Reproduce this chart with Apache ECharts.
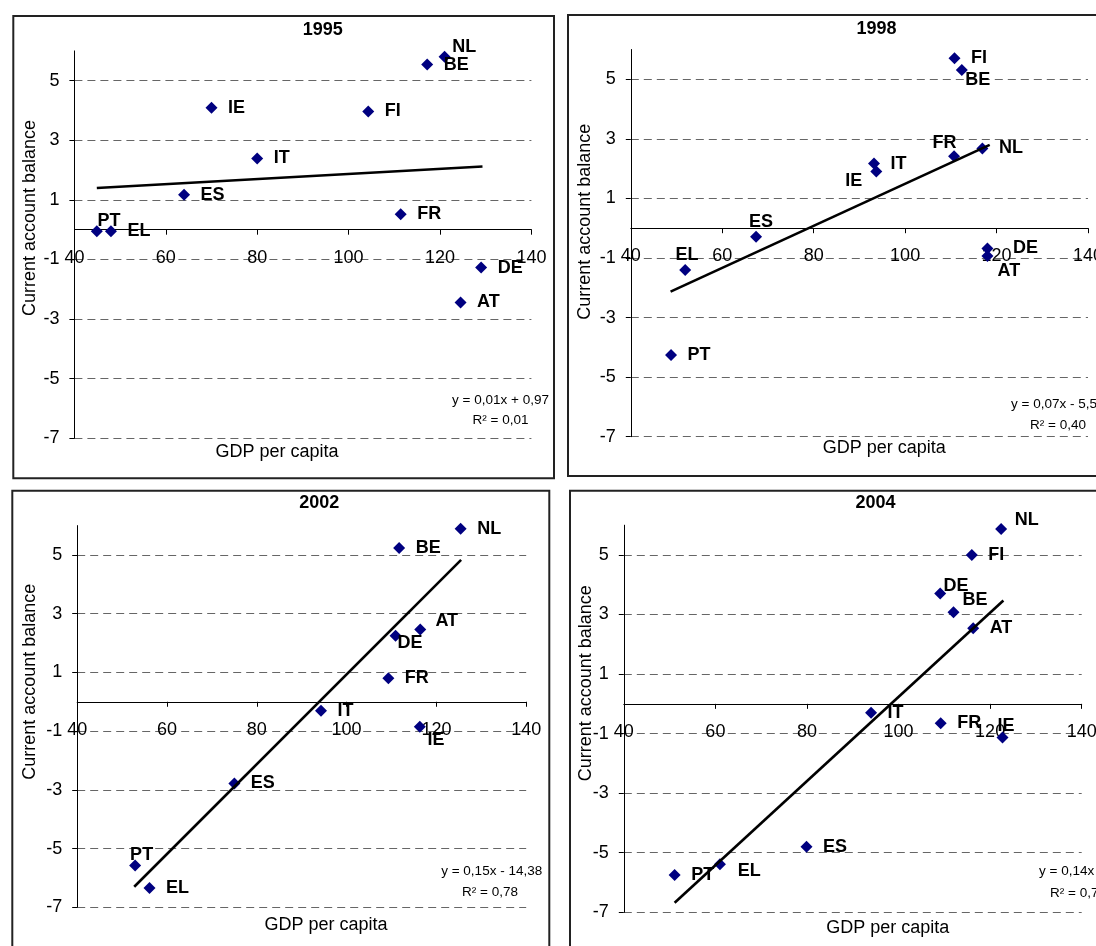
<!DOCTYPE html>
<html><head><meta charset="utf-8">
<script src="https://cdn.jsdelivr.net/npm/echarts@6/dist/echarts.min.js"></script>
<style>html,body{margin:0;padding:0;background:#fff}#c{width:1096px;height:946px}</style>
</head><body><div id="c"></div>
<script>
// ---------- data ----------
const xTicks = [40, 60, 80, 100, 120, 140];
const yTicks = [-7, -5, -3, -1, 1, 3, 5];
const yTop = 6;
const xAxisTitle = 'GDP per capita';
const yAxisTitle = 'Current account balance';

const countries1995 = ['NL','BE','IE','FI','IT','ES','FR','PT','EL','DE','AT'];
const gdp1995 = [121.0, 117.2, 70.0, 104.3, 80.0, 64.0, 111.4, 44.9, 48.0, 129.0, 124.5];
const cab1995 = [5.80, 5.54, 4.09, 3.97, 2.39, 1.17, 0.52, -0.05, -0.05, -1.27, -2.44];
const trendX1995 = [44.9, 129.3];
const trendY1995 = [1.40, 2.12];
const equation1995 = ['y = 0,01x + 0,97', 'R² = 0,01'];

const countries1998 = ['FI','BE','NL','FR','IT','IE','ES','EL','DE','AT','PT'];
const gdp1998 = [110.8, 112.4, 116.9, 110.7, 93.2, 93.7, 67.4, 51.9, 118.0, 118.0, 48.8];
const cab1998 = [5.71, 5.31, 2.68, 2.42, 2.17, 1.90, -0.29, -1.40, -0.68, -0.93, -4.26];
const trendX1998 = [48.7, 118.5];
const trendY1998 = [-2.13, 2.80];
const equation1998 = ['y = 0,07x - 5,5', 'R² = 0,40'];

const countries2002 = ['NL','BE','AT','DE','FR','IT','IE','ES','PT','EL'];
const gdp2002 = [125.4, 111.7, 116.4, 110.9, 109.3, 94.3, 116.3, 75.0, 52.9, 56.1];
const cab2002 = [5.89, 5.24, 2.46, 2.25, 0.80, -0.31, -0.85, -2.78, -5.58, -6.34];
const trendX2002 = [52.7, 125.5];
const trendY2002 = [-6.30, 4.83];
const equation2002 = ['y = 0,15x - 14,38', 'R² = 0,78'];

const countries2004 = ['NL','FI','DE','BE','AT','IT','FR','IE','ES','EL','PT'];
const gdp2004 = [122.4, 116.0, 109.1, 112.0, 116.3, 94.0, 109.2, 122.7, 79.9, 61.0, 51.1];
const cab2004 = [5.87, 5.00, 3.71, 3.08, 2.54, -0.30, -0.65, -1.13, -4.80, -5.39, -5.75];
const trendX2004 = [51.1, 122.9];
const trendY2004 = [-6.68, 3.47];
const equation2004 = ['y = 0,14x - 13,97', 'R² = 0,72'];

// ---------- label placement (text-centre offset from marker, px); others sit to the right ----------
const labelPlace1995 = { NL: [19.7, -9.4], PT: [12.2, -10.3] };
const labelPlace1998 = { BE: [15.9, 10.3], FR: [-9.6, -13.3], IE: [-22.5, 9.7], ES: [4.9, -15], EL: [1.9, -15], DE: [38, 0], AT: [21.5, 15] };
const labelPlace2002 = { AT: [26.5, -8.3], DE: [14.4, 7.7], IE: [16.3, 13.3], PT: [6.5, -11] };
const labelPlace2004 = { NL: [25.7, -9], DE: [15.9, -7.3], BE: [21.5, -11.7], IE: [3.5, -11], EL: [29.3, 6.3] };

// ---------- layout ----------
const FONT = '"Liberation Sans", Arial, sans-serif';
const panels = [
  { year: '1995', c: countries1995, x: gdp1995, y: cab1995, tx: trendX1995, ty: trendY1995, eq: equation1995, place: labelPlace1995,
    grid: { left: 74.4, top: 50.9, width: 457, height: 387.4 }, box: [13.3, 16, 540.7, 462.3],
    title: [322.7, 30], yName: [29.8, 218], xName: [277, 451.7],
    eqL: { x: 500.5, y: 400, align: 'center' }, r2L: { x: 500.5, y: 420.7 } },
  { year: '1998', c: countries1998, x: gdp1998, y: cab1998, tx: trendX1998, ty: trendY1998, eq: equation1998, place: labelPlace1998,
    grid: { left: 630.8, top: 49.5, width: 457.2, height: 387.2 }, box: [568, 15, 560, 461],
    title: [876.6, 29], yName: [584.7, 221.7], xName: [884.2, 448.3],
    eqL: { x: 1011, y: 404, align: 'left' }, r2L: { x: 1058, y: 425 } },
  { year: '2002', c: countries2002, x: gdp2002, y: cab2002, tx: trendX2002, ty: trendY2002, eq: equation2002, place: labelPlace2002,
    grid: { left: 77.2, top: 525.6, width: 449, height: 381.7 }, box: [12.3, 490.7, 537, 480],
    title: [319.2, 503.3], yName: [29.8, 681.7], xName: [326, 925],
    eqL: { x: 491.7, y: 871.7, align: 'center' }, r2L: { x: 490, y: 892.7 } },
  { year: '2004', c: countries2004, x: gdp2004, y: cab2004, tx: trendX2004, ty: trendY2004, eq: equation2004, place: labelPlace2004,
    grid: { left: 623.8, top: 525.2, width: 457.9, height: 387.1 }, box: [570, 490.7, 560, 480],
    title: [875.5, 503.3], yName: [586.4, 683.3], xName: [887.7, 928.3],
    eqL: { x: 1039, y: 871.7, align: 'left' }, r2L: { x: 1078, y: 893.3 } }
];

const grids = [], xAxes = [], yAxes = [], series = [], graphics = [];
panels.forEach((p, i) => {
  grids.push(Object.assign({ containLabel: false, outerBoundsMode: 'none' }, p.grid));
  // x axis crosses the y axis at 0: shift the whole axis (line, ticks, labels) up from the grid bottom
  const zeroOffset = p.grid.height * (0 - yTicks[0]) / (yTop - yTicks[0]);
  xAxes.push({
    type: 'value', gridIndex: i, position: 'bottom', offset: -zeroOffset,
    min: xTicks[0], max: xTicks[xTicks.length - 1], interval: xTicks[1] - xTicks[0],
    axisLine: { show: true, onZero: false, lineStyle: { color: '#000', width: 1 } },
    axisTick: { show: true, inside: false, length: 5, lineStyle: { color: '#000', width: 1 } },
    axisLabel: { show: true, margin: 19, fontSize: 18, color: '#000', fontFamily: FONT },
    splitLine: { show: false }
  });
  yAxes.push({
    type: 'value', gridIndex: i, min: yTicks[0], max: yTop, interval: 1,
    axisLine: { show: true, onZero: false, lineStyle: { color: '#000', width: 1 } },
    axisTick: { show: true, inside: false, length: 5, customValues: yTicks, lineStyle: { color: '#000', width: 1 } },
    axisLabel: { show: true, customValues: yTicks, margin: 15, fontSize: 18, color: '#000', fontFamily: FONT },
    splitLine: { show: true, lineStyle: { color: '#666', width: 1, type: [8, 5] } }
  });
  series.push({
    type: 'scatter', xAxisIndex: i, yAxisIndex: i, symbol: 'diamond', symbolSize: 12, z: 3,
    itemStyle: { color: '#000080', opacity: 1 },
    data: p.x.map((v, k) => {
      const name = p.c[k];
      const off = p.place[name];
      const label = off
        ? { show: true, position: 'inside', offset: off, formatter: '{b}' }
        : { show: true, position: 'right', distance: 10.5, formatter: '{b}' };
      return { name: name, value: [v, p.y[k]], label: label };
    }),
    label: { fontSize: 18, fontWeight: 'bold', color: '#000', fontFamily: FONT },
    emphasis: { disabled: true }
  });
  series.push({
    type: 'line', xAxisIndex: i, yAxisIndex: i, symbol: 'none', z: 4, silent: true,
    lineStyle: { color: '#000', width: 2.6 },
    data: p.tx.map((v, k) => [v, p.ty[k]])
  });
  graphics.push({ type: 'rect', shape: { x: p.box[0], y: p.box[1], width: p.box[2], height: p.box[3] },
    style: { fill: 'none', stroke: '#222', lineWidth: 2 }, silent: true });
  graphics.push({ type: 'text', x: p.title[0], y: p.title[1],
    style: { text: p.year, font: 'bold 18px ' + FONT, fill: '#000', align: 'center', verticalAlign: 'middle' } });
  graphics.push({ type: 'text', x: p.yName[0], y: p.yName[1], rotation: Math.PI / 2,
    style: { text: yAxisTitle, font: '18px ' + FONT, fill: '#000', align: 'center', verticalAlign: 'middle' } });
  graphics.push({ type: 'text', x: p.xName[0], y: p.xName[1],
    style: { text: xAxisTitle, font: '18px ' + FONT, fill: '#000', align: 'center', verticalAlign: 'middle' } });
  graphics.push({ type: 'text', x: p.eqL.x, y: p.eqL.y,
    style: { text: p.eq[0], font: '13.5px ' + FONT, fill: '#000', align: p.eqL.align, verticalAlign: 'middle' } });
  graphics.push({ type: 'text', x: p.r2L.x, y: p.r2L.y,
    style: { text: p.eq[1], font: '13.5px ' + FONT, fill: '#000', align: 'center', verticalAlign: 'middle' } });
});

const chart = echarts.init(document.getElementById('c'), null, { renderer: 'canvas' });
chart.setOption({
  backgroundColor: '#fff',
  animation: false,
  grid: grids, xAxis: xAxes, yAxis: yAxes, series: series, graphic: graphics
});
</script></body></html>
